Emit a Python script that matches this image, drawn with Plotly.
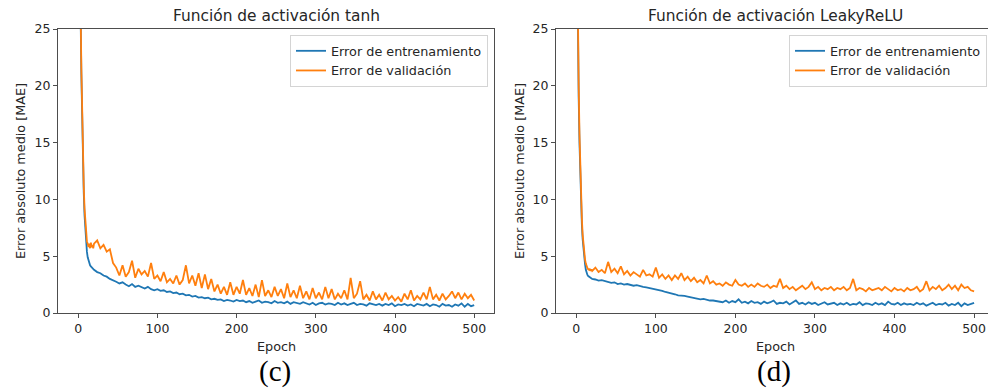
import plotly.graph_objects as go

W, H = 988, 390

# ---------------- data ----------------
EPOCHS = list(range(0, 20)) + list(range(20, 501, 4))

TANH_TRAIN = [
    60, 45, 34, 26.5, 21, 16.5, 13.2, 10.6, 8.6, 7.2,
    6.2, 5.4, 4.9, 4.6, 4.4, 4.2, 4.1, 4.0, 3.9, 3.8,
    3.8, 3.6, 3.5, 3.3, 3.2, 3.0, 2.9, 2.75, 2.6, 2.7,
    2.5, 2.35, 2.55, 2.3, 2.4, 2.25, 2.15, 2.3, 2.1, 2.0,
    2.1, 1.95, 2.0, 1.85, 1.9, 1.75, 1.8, 1.65, 1.7, 1.55,
    1.6, 1.45, 1.5, 1.35, 1.4, 1.3, 1.35, 1.2, 1.25, 1.15,
    1.2, 1.05, 1.15, 1.1, 1.0, 1.15, 1.05, 1.1, 0.95, 1.05,
    0.9, 1.0, 1.1, 0.9, 1.0, 0.95, 0.85, 1.05, 0.9, 0.95,
    0.85, 1.0, 0.8, 0.95, 0.9, 0.8, 0.95, 0.85, 0.75, 0.9,
    0.7, 0.85, 0.9, 0.75, 0.85, 0.8, 0.7, 0.9, 0.75, 0.85,
    0.7, 0.8, 0.9, 0.7, 0.8, 0.75, 0.65, 0.85, 0.75, 0.7,
    0.8, 0.65, 0.8, 0.7, 0.85, 0.6, 0.75, 0.7, 0.8, 0.65,
    0.75, 0.6, 0.8, 0.7, 0.65, 0.8, 0.6, 0.75, 0.7, 0.55,
    0.8, 0.65, 0.7, 0.55, 0.75, 0.65, 0.85, 0.55, 0.8, 0.6,
    0.7,
]

TANH_VAL = [
    62, 46, 35, 27, 21.5, 17, 13.8, 11.2, 9.2, 7.8,
    6.8, 6.3, 6.1, 5.8, 6.1, 5.7, 6.2, 5.8, 6.0, 5.7,
    6.1, 6.4, 5.7, 6.0, 5.4, 5.6, 4.4, 4.0, 3.3, 4.2,
    3.2, 3.6, 4.6, 3.1, 3.9, 3.4, 3.7, 3.2, 4.4, 3.0,
    3.3, 2.8, 3.6, 2.7, 3.0, 2.6, 3.3, 2.5, 2.9, 4.2,
    2.6, 3.3, 2.4, 3.5, 2.2, 3.4, 2.1, 3.0, 1.9, 2.5,
    1.7, 2.3, 1.6, 2.7, 1.6, 2.3, 1.7, 2.9, 1.6, 2.2,
    1.5, 2.5, 1.4, 2.9, 1.5, 2.0, 1.4, 2.3, 1.5, 2.1,
    1.3, 2.6, 1.4, 2.0, 1.3, 2.4, 1.3, 1.9, 1.2, 2.2,
    1.3, 1.8, 1.2, 2.3, 1.3, 2.1, 1.2, 1.7, 1.3, 2.0,
    1.2, 3.1, 1.3, 1.7, 2.8, 1.2, 1.6, 1.1, 1.9, 1.2,
    1.6, 1.1, 1.8, 1.2, 1.5, 1.1, 1.4, 1.0, 1.7, 1.2,
    2.0, 1.1, 1.5, 1.2, 1.8, 1.2, 2.3, 1.2, 1.6, 1.1,
    1.7, 1.2, 1.5, 1.9, 1.3, 1.8, 1.2, 1.7, 1.3, 1.6,
    1.1,
]

LEAKY_TRAIN = [
    40, 31, 24.5, 19, 15, 12, 9.6, 7.8, 6.5, 5.6,
    4.9, 4.3, 3.8, 3.5, 3.35, 3.25, 3.2, 3.15, 3.1, 3.05,
    3.0, 2.95, 2.85, 2.9, 2.8, 2.75, 2.65, 2.7, 2.55, 2.6,
    2.5, 2.55, 2.45, 2.4, 2.45, 2.35, 2.3, 2.25, 2.2, 2.15,
    2.1, 2.0, 1.95, 1.85, 1.8, 1.7, 1.65, 1.55, 1.55, 1.5,
    1.45, 1.4, 1.35, 1.3, 1.2, 1.25, 1.15, 1.1, 1.1, 1.05,
    1.0, 0.95, 1.1, 0.9, 1.05, 0.95, 1.2, 0.9, 1.0, 0.85,
    1.05, 0.9, 0.95, 0.8, 1.0, 0.85, 0.95, 1.1, 0.8, 0.9,
    0.85, 1.0, 0.75, 0.9, 1.1, 0.8, 0.9, 0.75, 0.95, 0.8,
    0.9, 0.7, 0.85, 0.95, 0.75, 0.8, 0.9, 0.7, 0.85, 0.75,
    0.9, 0.7, 0.8, 0.75, 0.95, 0.7, 0.85, 0.8, 0.7, 0.9,
    0.75, 0.85, 0.7, 1.0, 0.8, 0.75, 0.9, 0.7, 0.85, 0.75,
    0.8, 0.7, 0.9, 0.75, 0.85, 0.65, 0.8, 0.9, 0.7, 0.8,
    0.75, 0.9, 0.65, 0.8, 0.7, 0.9, 0.6, 0.85, 0.7, 0.8,
    0.9,
]

LEAKY_VAL = [
    41, 32, 25.5, 20, 15.8, 12.6, 10.2, 8.3, 6.9, 5.9,
    5.2, 4.7, 4.35, 4.1, 3.95, 3.85, 3.8, 3.9, 3.7, 3.85,
    3.7, 4.0, 3.6, 3.8, 3.5, 4.5, 3.6, 3.9, 3.5, 4.1,
    3.4, 3.7, 3.3, 3.6, 3.4, 3.2, 3.8, 3.3, 3.4, 3.2,
    4.0, 3.1, 3.4, 3.0, 3.3, 2.9, 3.3, 3.0, 3.5, 2.9,
    3.2, 2.8, 3.1, 2.7, 2.9, 2.6, 3.3, 2.6, 2.8, 2.5,
    2.6, 2.4, 2.7, 2.5, 2.4, 2.9, 2.5, 2.4, 2.6, 2.3,
    2.5, 2.3, 2.6, 2.4, 2.3, 2.5, 2.2, 2.4, 2.3, 3.0,
    2.2, 2.4, 2.1, 2.3, 2.0, 2.2, 2.4, 2.1, 2.3, 2.7,
    2.1, 2.3, 2.0, 2.2, 2.1, 2.3, 2.0, 2.2, 2.1, 2.3,
    2.0, 2.2, 3.0, 2.0, 2.2, 2.1, 1.9, 2.2, 2.0, 2.1,
    2.2, 2.0, 2.3, 2.1, 1.9, 2.2, 2.0, 2.1, 1.9, 2.2,
    2.0, 2.1, 2.3, 1.9, 2.1, 2.8, 2.0, 2.3, 2.1, 2.4,
    2.0, 2.2, 2.5, 2.1, 2.4, 2.0, 2.5, 2.2, 2.3, 2.0,
    1.9,
]

X_TICKS = [0, 100, 200, 300, 400, 500]
Y_TICKS = [0, 5, 10, 15, 20, 25]
TITLES = ["Función de activación tanh", "Función de activación LeakyReLU"]
SERIES_NAMES = ["Error de entrenamiento", "Error de validación"]
PANEL_LABELS = ["(c)", "(d)"]
X_LABEL = "Epoch"
Y_LABEL = "Error absoluto medio [MAE]"

BLUE = "#1f77b4"
ORANGE = "#ff7f0e"
FONT = "DejaVu Sans"
TXT = "#262626"
AXC = "#4d4d4d"


def px(x):
    return x / W


def py(y):
    return 1 - y / H


fig = go.Figure()

panels = [
    (TANH_TRAIN, TANH_VAL, "x", "y", "legend"),
    (LEAKY_TRAIN, LEAKY_VAL, "x2", "y2", "legend2"),
]
for tr, va, xa, ya, lg in panels:
    fig.add_trace(go.Scatter(x=EPOCHS, y=tr, mode="lines", name=SERIES_NAMES[0],
                             line=dict(color=BLUE, width=1.8), xaxis=xa, yaxis=ya,
                             legend=lg))
    fig.add_trace(go.Scatter(x=EPOCHS, y=va, mode="lines", name=SERIES_NAMES[1],
                             line=dict(color=ORANGE, width=1.8), xaxis=xa, yaxis=ya,
                             legend=lg))

axis_common = dict(showgrid=False, zeroline=False, showline=True, linecolor=AXC,
                   linewidth=1, ticks="outside", ticklen=4, tickcolor=AXC,
                   automargin=False,
                   tickfont=dict(family=FONT, size=12.5, color=TXT))

y_dom = [py(313), py(29)]
leg_common = dict(yanchor="top", y=py(35), xanchor="right",
                  bgcolor="rgba(255,255,255,0.85)", bordercolor="#d4d4d4", borderwidth=1,
                  font=dict(family=FONT, size=12.8, color=TXT), itemwidth=30,
                  tracegroupgap=0)
fig.update_layout(
    width=W, height=H,
    margin=dict(l=0, r=0, t=0, b=0, pad=0, autoexpand=False),
    paper_bgcolor="white", plot_bgcolor="white",
    xaxis=dict(domain=[px(58), px(494)], range=[-25.5, 525], tickvals=X_TICKS,
               mirror=True, anchor="y", **axis_common),
    yaxis=dict(domain=y_dom, range=[0, 25], tickvals=Y_TICKS, mirror=True,
               anchor="x", **axis_common),
    xaxis2=dict(domain=[px(556), 1.0], range=[-25.5, 517.5], tickvals=X_TICKS,
                mirror=True, anchor="y2", **axis_common),
    yaxis2=dict(domain=y_dom, range=[0, 25], tickvals=Y_TICKS, mirror=False,
                anchor="x2", **axis_common),
    legend=dict(x=px(488), **leg_common),
    legend2=dict(x=px(987), **leg_common),
    showlegend=True,
)

ann = []
centers = [276, 775]
ylab_x = [20, 519]
for i in range(2):
    ann.append(dict(text=TITLES[i], x=px(centers[i]), y=py(16), xref="paper", yref="paper",
                    xanchor="center", yanchor="middle", showarrow=False,
                    font=dict(family=FONT, size=15.4, color=TXT)))
    ann.append(dict(text=X_LABEL, x=px(centers[i]), y=py(346), xref="paper", yref="paper",
                    xanchor="center", yanchor="middle", showarrow=False,
                    font=dict(family=FONT, size=12.8, color=TXT)))
    ann.append(dict(text=Y_LABEL, x=px(ylab_x[i]), y=py(171), xref="paper", yref="paper",
                    xanchor="center", yanchor="middle", showarrow=False, textangle=-90,
                    font=dict(family=FONT, size=12.8, color=TXT)))
    ann.append(dict(text=PANEL_LABELS[i], x=px(centers[i] - 1), y=py(371), xref="paper",
                    yref="paper", xanchor="center", yanchor="middle", showarrow=False,
                    font=dict(family="Liberation Serif", size=29, color="black")))
fig.update_layout(annotations=ann)

fig.write_html("out.html")
